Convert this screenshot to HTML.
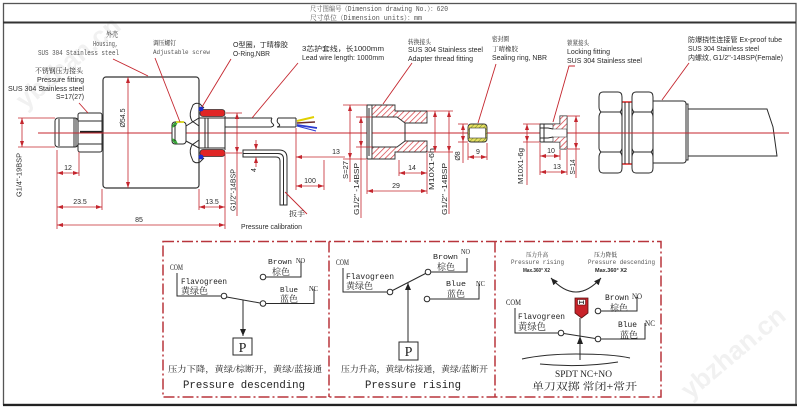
<!DOCTYPE html>
<html><head><meta charset="utf-8">
<style>
html,body{margin:0;padding:0;background:#fff;}
svg{display:block;}
.r{stroke:#c4262e;stroke-width:0.8;fill:none;}
.k{stroke:#2a2a2a;stroke-width:1;fill:none;}
.kw{stroke:#2a2a2a;stroke-width:1;fill:#fff;}
.sa{font-family:"Liberation Sans","Noto Sans CJK SC",sans-serif;fill:#2a2a2a;}
.mo{font-family:"Liberation Mono","Noto Serif CJK SC",monospace;fill:#555;}
.se{font-family:"Liberation Serif","Noto Serif CJK SC",serif;fill:#222;}
.cj{font-family:"Liberation Serif","Noto Serif CJK SC",serif;fill:#222;}
.bm{font-family:"Liberation Mono","Noto Serif CJK SC",monospace;fill:#222;}
</style></head><body>
<svg width="800" height="411" viewBox="0 0 800 411" xmlns="http://www.w3.org/2000/svg">
<defs>
<marker id="ar" markerWidth="6" markerHeight="4" refX="6" refY="2" orient="auto-start-reverse" markerUnits="userSpaceOnUse"><path d="M0,0 L6,2 L0,4 Z" fill="#c4262e"/></marker>
<marker id="ak" markerWidth="7" markerHeight="6" refX="7" refY="3" orient="auto" markerUnits="userSpaceOnUse"><path d="M0,0 L7,3 L0,6 Z" fill="#222"/></marker>
<marker id="ak2" markerWidth="7" markerHeight="6" refX="7" refY="3" orient="auto-start-reverse" markerUnits="userSpaceOnUse"><path d="M0,0 L7,3 L0,6 Z" fill="#222"/></marker>
<pattern id="h" width="4" height="4" patternUnits="userSpaceOnUse" patternTransform="rotate(45)"><rect width="4" height="4" fill="#fff"/><line x1="0" y1="0" x2="0" y2="4" stroke="#d22a30" stroke-width="1.3"/></pattern>
<pattern id="hy" width="3" height="3" patternUnits="userSpaceOnUse" patternTransform="rotate(45)"><rect width="3" height="3" fill="#e8e060"/><line x1="0" y1="0" x2="0" y2="3" stroke="#6a8a30" stroke-width="1"/></pattern>
</defs>

<!-- watermarks -->
<g font-family="Liberation Sans,sans-serif" font-size="26" fill="#f1f1f1" font-weight="bold">
<text transform="translate(25,110) rotate(-40)">ybzhan.cn</text>
<text transform="translate(690,400) rotate(-40)">ybzhan.cn</text>
</g>

<!-- frame -->
<rect x="3.5" y="3.5" width="792.5" height="401" fill="none" stroke="#555" stroke-width="1.3"/>
<line x1="3" y1="22.5" x2="796" y2="22.5" stroke="#333" stroke-width="2"/>
<line x1="3" y1="405" x2="797" y2="405" stroke="#222" stroke-width="2.2"/>
<text x="310" y="11" class="mo" font-size="7" textLength="138" lengthAdjust="spacingAndGlyphs" fill="#444">尺寸图编号（Dimension drawing No.）：620</text>
<text x="310" y="20" class="mo" font-size="7" textLength="112" lengthAdjust="spacingAndGlyphs" fill="#444">尺寸单位（Dimension units）：mm</text>

<!-- center line -->
<line x1="38" y1="133" x2="789" y2="133" stroke="#c4262e" stroke-width="1"/>

<!-- left fitting -->
<rect x="55" y="118" width="23" height="29" rx="3" class="kw"/>
<line x1="59" y1="119" x2="59" y2="146" class="k"/>
<line x1="74" y1="118" x2="74" y2="147" class="k"/>
<line x1="76" y1="118" x2="76" y2="147" class="k"/>
<rect x="78" y="113" width="24" height="39" rx="2" class="kw"/>
<line x1="78" y1="121" x2="102" y2="121" class="k"/>
<line x1="78" y1="144" x2="102" y2="144" class="k"/>
<line x1="80" y1="132" x2="102" y2="132" stroke="#222" stroke-width="2.2"/>
<rect x="103" y="77" width="96" height="111" rx="3" fill="#fff" stroke="#333" stroke-width="1.2"/>
<line x1="38" y1="133" x2="200" y2="133" stroke="#c4262e" stroke-width="1"/>

<!-- gland -->
<path d="M199 126 L192 121 Q189 116 191 110 L193 105 Q196 102 200 104 L204 108" class="k"/>
<path d="M199 140 L192 145 Q189 150 191 156 L193 161 Q196 164 200 162 L204 158" class="k"/>
<rect x="200" y="109.5" width="25" height="7" rx="3" fill="#e02626" stroke="#333" stroke-width="0.8"/>
<rect x="200" y="149.5" width="25" height="7" rx="3" fill="#e02626" stroke="#333" stroke-width="0.8"/>
<circle cx="201" cy="109" r="2.4" fill="#1a2fd0"/>
<circle cx="201" cy="157" r="2.4" fill="#1a2fd0"/>
<path d="M186 126 L199 118 L225 118" class="k"/>
<path d="M186 141 L199 148 L225 148" class="k"/>
<line x1="205" y1="118" x2="205" y2="148" class="k"/>
<line x1="208" y1="118" x2="208" y2="148" class="k"/>
<line x1="225" y1="116" x2="225" y2="150" class="k"/>
<!-- adjustable screw -->
<rect x="172" y="122" width="14" height="22" rx="3" class="kw"/>
<path d="M172 128 Q172 122 178 122 L176 126 Z" fill="#3aa83a"/>
<path d="M172 138 Q172 144 178 144 L176 140 Z" fill="#3aa83a"/>
<rect x="176" y="121" width="8" height="2" fill="#d8d830"/>
<line x1="175" y1="125" x2="175" y2="141" class="k"/>
<!-- cable -->
<path d="M225 118 H272 M278 118 H296 M225 127 H271 M277 127 H296 M296 118 V127" class="k"/>
<path d="M272 118 Q270 122 273 124 Q275 126 271 127 M278 118 Q276 122 279 124 Q281 126 277 127" class="k"/>
<line x1="297" y1="121" x2="314" y2="117" stroke="#e0d000" stroke-width="2"/>
<line x1="297" y1="123" x2="315" y2="122" stroke="#6a2a2a" stroke-width="1.6"/>
<line x1="297" y1="125" x2="317" y2="128" stroke="#2a3ad0" stroke-width="1.8"/>
<line x1="297" y1="126" x2="316" y2="131" stroke="#2a3ad0" stroke-width="1"/>
<!-- wrench -->
<path d="M243 150 H279 Q287 150 287 158 V205 H280 V161 Q280 157 276 157 H243 Z" class="kw"/>
<path d="M243 153.5 H278 Q283.5 153.5 283.5 159 V205" class="k" stroke-width="0.6"/>

<!-- left dimension lines -->
<g class="r">
<line x1="18" y1="118" x2="55" y2="118"/>
<line x1="18" y1="147" x2="55" y2="147"/>
<line x1="22" y1="118" x2="22" y2="147" marker-start="url(#ar)" marker-end="url(#ar)"/>
<line x1="57" y1="150" x2="57" y2="229"/>
<line x1="79" y1="152" x2="79" y2="176"/>
<line x1="57" y1="173" x2="79" y2="173" marker-start="url(#ar)" marker-end="url(#ar)"/>
<line x1="102" y1="189" x2="102" y2="210"/>
<line x1="57" y1="207" x2="102" y2="207" marker-start="url(#ar)" marker-end="url(#ar)"/>
<line x1="57" y1="225" x2="225" y2="225" marker-start="url(#ar)" marker-end="url(#ar)"/>
<line x1="199" y1="189" x2="199" y2="210"/>
<line x1="199" y1="207" x2="225" y2="207" marker-start="url(#ar)" marker-end="url(#ar)"/>
<line x1="225" y1="152" x2="225" y2="229"/>
<line x1="128" y1="77" x2="128" y2="188" marker-start="url(#ar)" marker-end="url(#ar)"/>
<line x1="226" y1="113" x2="242" y2="113"/>
<line x1="226" y1="153" x2="242" y2="153"/>
<line x1="237" y1="113" x2="237" y2="153" marker-start="url(#ar)" marker-end="url(#ar)"/>
<line x1="237" y1="153" x2="237" y2="216"/>
<line x1="256" y1="140" x2="256" y2="150" marker-end="url(#ar)"/>
<line x1="256" y1="167" x2="256" y2="157" marker-end="url(#ar)"/>
<line x1="296" y1="128" x2="296" y2="190"/>
<line x1="324" y1="160" x2="324" y2="190"/>
<line x1="296" y1="186" x2="324" y2="186" marker-start="url(#ar)" marker-end="url(#ar)"/>
<line x1="296" y1="157" x2="345" y2="157" marker-start="url(#ar)"/>
</g>
<g class="sa" font-size="7" fill="#333">
<text x="68" y="170" text-anchor="middle">12</text>
<text x="80" y="204" text-anchor="middle">23.5</text>
<text x="139" y="222" text-anchor="middle">85</text>
<text x="212" y="204" text-anchor="middle">13.5</text>
<text x="310" y="183" text-anchor="middle">100</text>
<text x="336" y="154" text-anchor="middle">13</text>
<text transform="translate(21.5,175) rotate(-90)" text-anchor="middle" textLength="44" lengthAdjust="spacingAndGlyphs">G1/4"-19BSP</text>
<text transform="translate(125,118) rotate(-90)" text-anchor="middle">Ø54.5</text>
<text transform="translate(235.5,190) rotate(-90)" text-anchor="middle" textLength="42" lengthAdjust="spacingAndGlyphs">G1/2"-14BSP</text>
<text transform="translate(256,170) rotate(-90)" text-anchor="middle">4</text>
</g>

<!-- adapter fitting -->
<rect x="367" y="105" width="5" height="54" class="kw"/>
<path d="M372 105 H395 V111 H427 V123 H405 L397 117 H372 Z" fill="url(#h)" stroke="#333" stroke-width="0.9"/>
<path d="M372 159 H395 V152 H427 V141 H405 L397 147 H372 Z" fill="url(#h)" stroke="#333" stroke-width="0.9"/>
<line x1="372" y1="117" x2="372" y2="147" class="k"/>
<line x1="369" y1="108" x2="369" y2="156" class="k" stroke-width="0.6"/>
<line x1="405" y1="123" x2="405" y2="141" class="k" stroke-width="0.6"/>
<!-- sealing ring -->
<rect x="468" y="124" width="19" height="18" rx="3" fill="url(#hy)" stroke="#333" stroke-width="0.9"/>
<rect x="469.5" y="128" width="16" height="10" fill="#fff" stroke="#333" stroke-width="0.6"/>
<!-- locking fitting -->
<path d="M540 124 H560 V116 H567 V149 H560 V142 H540 Z" class="kw"/>
<path d="M553 124 H560 V116 H567 V129 H553 Z" fill="url(#h)" stroke="#333" stroke-width="0.6"/>
<path d="M553 142 H560 V149 H567 V137 H553 Z" fill="url(#h)" stroke="#333" stroke-width="0.6"/>
<path d="M540 128 H548 L553 129 M540 138 H548 L553 137" class="k" stroke-width="0.7"/>
<line x1="544" y1="124" x2="544" y2="142" class="k" stroke-width="0.6"/>

<!-- middle/right dimensions -->
<g class="r">
<line x1="343" y1="105" x2="367" y2="105"/>
<line x1="343" y1="159" x2="367" y2="159"/>
<line x1="350" y1="105" x2="350" y2="159" marker-start="url(#ar)" marker-end="url(#ar)"/>
<line x1="350" y1="159" x2="350" y2="182"/>
<line x1="356" y1="117" x2="372" y2="117"/>
<line x1="356" y1="147" x2="372" y2="147"/>
<line x1="361" y1="117" x2="361" y2="147" marker-start="url(#ar)" marker-end="url(#ar)"/>
<line x1="361" y1="147" x2="361" y2="218"/>
<line x1="367" y1="160" x2="367" y2="194"/>
<line x1="427" y1="153" x2="427" y2="194"/>
<line x1="367" y1="191" x2="427" y2="191" marker-start="url(#ar)" marker-end="url(#ar)"/>
<line x1="399" y1="160" x2="399" y2="176"/>
<line x1="399" y1="173" x2="427" y2="173" marker-start="url(#ar)" marker-end="url(#ar)"/>
<line x1="427" y1="111" x2="453" y2="111"/>
<line x1="427" y1="152" x2="453" y2="152"/>
<line x1="435" y1="111" x2="435" y2="152" marker-start="url(#ar)" marker-end="url(#ar)"/>
<line x1="449" y1="111" x2="449" y2="152" marker-start="url(#ar)" marker-end="url(#ar)"/>
<line x1="449" y1="152" x2="449" y2="214"/>
<line x1="458" y1="124" x2="468" y2="124"/>
<line x1="458" y1="142" x2="468" y2="142"/>
<line x1="463" y1="124" x2="463" y2="142" marker-start="url(#ar)" marker-end="url(#ar)"/>
<line x1="463" y1="142" x2="463" y2="163"/>
<line x1="468" y1="143" x2="468" y2="160"/>
<line x1="487" y1="143" x2="487" y2="160"/>
<line x1="468" y1="157" x2="487" y2="157" marker-start="url(#ar)" marker-end="url(#ar)"/>
<line x1="523" y1="124" x2="540" y2="124"/>
<line x1="523" y1="142" x2="540" y2="142"/>
<line x1="527" y1="124" x2="527" y2="142" marker-start="url(#ar)" marker-end="url(#ar)"/>
<line x1="527" y1="142" x2="527" y2="185"/>
<line x1="540" y1="143" x2="540" y2="175"/>
<line x1="560" y1="150" x2="560" y2="160"/>
<line x1="540" y1="156" x2="560" y2="156" marker-start="url(#ar)" marker-end="url(#ar)"/>
<line x1="567" y1="150" x2="567" y2="175"/>
<line x1="540" y1="172" x2="567" y2="172" marker-start="url(#ar)" marker-end="url(#ar)"/>
<line x1="567" y1="116" x2="580" y2="116"/>
<line x1="567" y1="149" x2="580" y2="149"/>
<line x1="576" y1="116" x2="576" y2="149" marker-start="url(#ar)" marker-end="url(#ar)"/>
<line x1="576" y1="149" x2="576" y2="178"/>
</g>
<g class="sa" font-size="7" fill="#333">
<text x="396" y="188" text-anchor="middle">29</text>
<text x="412" y="170" text-anchor="middle">14</text>
<text x="478" y="154" text-anchor="middle">9</text>
<text x="551" y="153" text-anchor="middle">10</text>
<text x="557" y="169" text-anchor="middle">13</text>
<text transform="translate(348,170) rotate(-90)" text-anchor="middle" textLength="18" lengthAdjust="spacingAndGlyphs">S=27</text>
<text transform="translate(359,189) rotate(-90)" text-anchor="middle" textLength="52" lengthAdjust="spacingAndGlyphs">G1/2" -14BSP</text>
<text transform="translate(434,169) rotate(-90)" text-anchor="middle" textLength="42" lengthAdjust="spacingAndGlyphs">M10X1-6h</text>
<text transform="translate(447,189) rotate(-90)" text-anchor="middle" textLength="52" lengthAdjust="spacingAndGlyphs">G1/2" -14BSP</text>
<text transform="translate(460,156) rotate(-90)" text-anchor="middle">Ø8</text>
<text transform="translate(523,166) rotate(-90)" text-anchor="middle" textLength="36" lengthAdjust="spacingAndGlyphs">M10X1-6g</text>
<text transform="translate(575,167) rotate(-90)" text-anchor="middle" textLength="15" lengthAdjust="spacingAndGlyphs">S=14</text>
</g>

<!-- ex-proof tube -->
<g>
<path d="M688 109 H767 L773 127 L777 156 H688 Z" class="kw"/>
<rect x="685" y="104" width="3" height="56" class="kw"/>
<path d="M653 101 H683 Q686 101 686 104 V160 Q686 163 683 163 H653 Z" class="kw"/>
<rect x="622" y="102" width="10" height="62" class="kw"/>
<line x1="622" y1="102" x2="632" y2="102" stroke="#d22" stroke-width="1.5"/>
<line x1="622" y1="164" x2="632" y2="164" stroke="#d22" stroke-width="1.5"/>
<line x1="625" y1="102" x2="625" y2="164" class="k"/>
<line x1="629" y1="102" x2="629" y2="164" class="k" stroke-width="0.6"/>
<path d="M603 92 H618 Q622 92 622 97 V107 Q622 110 620 112 Q622 114 622 117 V148 Q622 150 620 152 Q622 154 622 157 V168 Q622 173 618 173 H603 Q599 173 599 168 V157 Q599 154 601 152 Q599 150 599 148 V117 Q599 114 601 112 Q599 110 599 107 V97 Q599 92 603 92 Z" class="kw"/>
<path d="M601 112 H620 M601 152 H620" class="k"/>
<path d="M636 92 H649 Q653 92 653 97 V107 Q653 110 651 112 Q653 114 653 117 V148 Q653 150 651 152 Q653 154 653 157 V168 Q653 173 649 173 H636 Q632 173 632 168 V157 Q632 154 634 152 Q632 150 632 148 V117 Q632 114 634 112 Q632 110 632 107 V97 Q632 92 636 92 Z" class="kw"/>
<path d="M634 112 H651 M634 152 H651" class="k"/>
<line x1="595" y1="133" x2="789" y2="133" stroke="#c4262e" stroke-width="1"/>
</g>

<!-- leader lines -->
<g stroke="#c4262e" stroke-width="0.9" fill="none">
<line x1="113" y1="59" x2="148" y2="76"/>
<line x1="79" y1="103" x2="88" y2="113"/>
<line x1="155" y1="58" x2="180" y2="122"/>
<line x1="231" y1="59" x2="202" y2="107"/>
<line x1="298" y1="63" x2="252" y2="118"/>
<line x1="285" y1="192" x2="307" y2="214"/>
<line x1="412" y1="63" x2="383" y2="104"/>
<line x1="496" y1="64" x2="478" y2="123"/>
<path d="M575 66 H569 L553 122"/>
<line x1="689" y1="63" x2="662" y2="100"/>
</g>

<!-- top labels -->
<text x="106" y="37" class="cj" font-size="7.5" fill="#444" textLength="12" lengthAdjust="spacingAndGlyphs">外壳</text>
<text x="93" y="46" class="mo" font-size="7" textLength="25" lengthAdjust="spacingAndGlyphs">Housing,</text>
<text x="38" y="55" class="mo" font-size="7" textLength="81" lengthAdjust="spacingAndGlyphs">SUS 304 Stainless steel</text>
<text x="35" y="73" class="cj" font-size="7" fill="#444" textLength="48" lengthAdjust="spacingAndGlyphs">不锈钢压力接头</text>
<text x="37" y="82" class="sa" font-size="7.3" textLength="47" lengthAdjust="spacingAndGlyphs">Pressure fitting</text>
<text x="8" y="91" class="sa" font-size="7.3" textLength="76" lengthAdjust="spacingAndGlyphs">SUS 304 Stainless steel</text>
<text x="56" y="99" class="sa" font-size="7.3" textLength="28" lengthAdjust="spacingAndGlyphs">S=17(27)</text>
<text x="153" y="45" class="cj" font-size="6.5" fill="#444" textLength="23" lengthAdjust="spacingAndGlyphs">调压螺钉</text>
<text x="153" y="54" class="mo" font-size="6.5" fill="#777" textLength="57" lengthAdjust="spacingAndGlyphs">Adjustable screw</text>
<text x="233" y="47" class="sa" font-size="7" textLength="55" lengthAdjust="spacingAndGlyphs">O型圈，丁晴橡胶</text>
<text x="233" y="56" class="sa" font-size="7" textLength="37" lengthAdjust="spacingAndGlyphs">O-Ring,NBR</text>
<text x="302" y="51" class="sa" font-size="7" textLength="82" lengthAdjust="spacingAndGlyphs">3芯护套线，长1000mm</text>
<text x="302" y="60" class="sa" font-size="7" textLength="82" lengthAdjust="spacingAndGlyphs">Lead wire length: 1000mm</text>
<text x="408" y="44" class="cj" font-size="6.5" fill="#444" textLength="23" lengthAdjust="spacingAndGlyphs">转换接头</text>
<text x="408" y="52" class="sa" font-size="7" textLength="75" lengthAdjust="spacingAndGlyphs">SUS 304 Stainless steel</text>
<text x="408" y="61" class="sa" font-size="7" textLength="65" lengthAdjust="spacingAndGlyphs">Adapter thread fitting</text>
<text x="492" y="41" class="cj" font-size="6.5" fill="#444" textLength="17" lengthAdjust="spacingAndGlyphs">密封圈</text>
<text x="492" y="51" class="cj" font-size="6.5" fill="#444" textLength="26" lengthAdjust="spacingAndGlyphs">丁晴橡胶</text>
<text x="492" y="60" class="sa" font-size="7" textLength="55" lengthAdjust="spacingAndGlyphs">Sealing ring, NBR</text>
<text x="567" y="45" class="cj" font-size="6.5" fill="#444" textLength="22" lengthAdjust="spacingAndGlyphs">锁紧接头</text>
<text x="567" y="54" class="sa" font-size="7" textLength="43" lengthAdjust="spacingAndGlyphs">Locking fitting</text>
<text x="567" y="63" class="sa" font-size="7" textLength="75" lengthAdjust="spacingAndGlyphs">SUS 304 Stainless steel</text>
<text x="688" y="42" class="sa" font-size="7" textLength="94" lengthAdjust="spacingAndGlyphs">防爆挠性连接管 Ex-proof tube</text>
<text x="688" y="51" class="sa" font-size="7" textLength="71" lengthAdjust="spacingAndGlyphs">SUS 304 Stainless steel</text>
<text x="688" y="60" class="sa" font-size="7" textLength="95" lengthAdjust="spacingAndGlyphs">内螺纹, G1/2"-14BSP(Female)</text>
<text x="289" y="216" class="cj" font-size="7" fill="#444" textLength="16" lengthAdjust="spacingAndGlyphs">扳手</text>
<text x="241" y="229" class="sa" font-size="7.3" textLength="61" lengthAdjust="spacingAndGlyphs">Pressure calibration</text>

<!-- bottom boxes -->
<rect x="163" y="241.5" width="498" height="155.5" fill="none" stroke="#b8353c" stroke-width="1.5" stroke-dasharray="11 3 2 3"/>
<line x1="329" y1="241.5" x2="329" y2="397" stroke="#b8353c" stroke-width="1.5" stroke-dasharray="11 3 2 3"/>
<line x1="495" y1="241.5" x2="495" y2="397" stroke="#b8353c" stroke-width="1.5" stroke-dasharray="11 3 2 3"/>

<!-- box 1 -->
<g>
<text x="170" y="270" class="se" font-size="8" textLength="13" lengthAdjust="spacingAndGlyphs">COM</text>
<path d="M177 273 V296 H221" class="k"/>
<text x="181" y="284" class="bm" font-size="8" textLength="46" lengthAdjust="spacingAndGlyphs">Flavogreen</text>
<text x="181" y="294" class="cj" font-size="9" textLength="27" lengthAdjust="spacingAndGlyphs">黄绿色</text>
<circle cx="224" cy="296" r="2.8" class="kw"/>
<line x1="226.7" y1="297" x2="260" y2="303" class="k"/>
<circle cx="263" cy="303.5" r="2.8" class="kw"/>
<path d="M265.8 303.5 H314 V289" class="k"/>
<circle cx="263" cy="277" r="2.8" class="kw"/>
<path d="M265.8 277 H301 V261" class="k"/>
<text x="268" y="264" class="bm" font-size="7.5" textLength="24" lengthAdjust="spacingAndGlyphs">Brown</text>
<text x="296" y="263" class="se" font-size="7.5" textLength="9" lengthAdjust="spacingAndGlyphs">NO</text>
<text x="272" y="275" class="cj" font-size="9" textLength="18" lengthAdjust="spacingAndGlyphs">棕色</text>
<text x="280" y="292" class="bm" font-size="7.5" textLength="18" lengthAdjust="spacingAndGlyphs">Blue</text>
<text x="309" y="291" class="se" font-size="7.5" textLength="9" lengthAdjust="spacingAndGlyphs">NC</text>
<text x="280" y="302" class="cj" font-size="9" textLength="18" lengthAdjust="spacingAndGlyphs">蓝色</text>
<line x1="243" y1="300" x2="243" y2="336" class="k" marker-end="url(#ak)"/>
<rect x="233" y="338" width="19" height="17" class="kw"/>
<text x="242.5" y="352" class="se" font-size="14" text-anchor="middle">P</text>
<text x="168" y="372" class="cj" font-size="8.5" textLength="154" lengthAdjust="spacingAndGlyphs">压力下降，黄绿/棕断开，黄绿/蓝接通</text>
<text x="183" y="388" class="bm" font-size="11" textLength="122" lengthAdjust="spacingAndGlyphs">Pressure descending</text>
</g>

<!-- box 2 -->
<g>
<text x="336" y="265" class="se" font-size="8" textLength="13" lengthAdjust="spacingAndGlyphs">COM</text>
<path d="M343 268 V292 H387" class="k"/>
<text x="346" y="279" class="bm" font-size="8" textLength="48" lengthAdjust="spacingAndGlyphs">Flavogreen</text>
<text x="346" y="289" class="cj" font-size="9" textLength="27" lengthAdjust="spacingAndGlyphs">黄绿色</text>
<circle cx="390" cy="292" r="2.8" class="kw"/>
<line x1="392.5" y1="290.5" x2="425.5" y2="273.5" class="k"/>
<circle cx="428" cy="272" r="2.8" class="kw"/>
<path d="M430.8 272 H467 V258" class="k"/>
<text x="433" y="259" class="bm" font-size="7.5" textLength="25" lengthAdjust="spacingAndGlyphs">Brown</text>
<text x="461" y="254" class="se" font-size="7.5" textLength="9" lengthAdjust="spacingAndGlyphs">NO</text>
<text x="437" y="270" class="cj" font-size="9" textLength="18" lengthAdjust="spacingAndGlyphs">棕色</text>
<text x="446" y="286" class="bm" font-size="7.5" textLength="20" lengthAdjust="spacingAndGlyphs">Blue</text>
<text x="476" y="286" class="se" font-size="7.5" textLength="9" lengthAdjust="spacingAndGlyphs">NC</text>
<text x="447" y="297" class="cj" font-size="9" textLength="18" lengthAdjust="spacingAndGlyphs">蓝色</text>
<circle cx="427" cy="299" r="2.8" class="kw"/>
<path d="M429.8 299 H479 V284" class="k"/>
<line x1="408" y1="342" x2="408" y2="283" class="k" marker-end="url(#ak)"/>
<rect x="399" y="342" width="19" height="18" class="kw"/>
<text x="408.5" y="356" class="se" font-size="14" text-anchor="middle">P</text>
<text x="341" y="372" class="cj" font-size="8.5" textLength="147" lengthAdjust="spacingAndGlyphs">压力升高，黄绿/棕接通，黄绿/蓝断开</text>
<text x="365" y="388" class="bm" font-size="11" textLength="96" lengthAdjust="spacingAndGlyphs">Pressure rising</text>
</g>

<!-- box 3 -->
<g>
<text x="526" y="257" class="cj" font-size="6" textLength="22" lengthAdjust="spacingAndGlyphs">压力升高</text>
<text x="511" y="264" class="mo" font-size="6" textLength="53" lengthAdjust="spacingAndGlyphs" fill="#444">Pressure rising</text>
<text x="523" y="272" class="sa" font-size="5" font-weight="bold" textLength="27" lengthAdjust="spacingAndGlyphs">Max.360° X2</text>
<text x="594" y="257" class="cj" font-size="6" textLength="23" lengthAdjust="spacingAndGlyphs">压力降低</text>
<text x="588" y="264" class="mo" font-size="6" textLength="67" lengthAdjust="spacingAndGlyphs" fill="#444">Pressure descending</text>
<text x="595" y="272" class="sa" font-size="5" font-weight="bold" textLength="32" lengthAdjust="spacingAndGlyphs">Max.360° X2</text>
<path d="M551 278 Q576 306 601 278" class="k" marker-start="url(#ak2)" marker-end="url(#ak2)"/>
<path d="M575 298 H588 V313 L581.5 318 L575 313 Z" fill="#c8232a" stroke="#5a1010" stroke-width="0.8"/>
<rect x="577.5" y="299.5" width="8" height="5.5" fill="#fff" stroke="#5a1010" stroke-width="0.6"/>
<path d="M579.5 300.5 V304 M583.5 300.5 V304 M579.5 302.2 H583.5" stroke="#222" stroke-width="0.8"/>
<text x="506" y="305" class="se" font-size="8.5" textLength="15" lengthAdjust="spacingAndGlyphs">COM</text>
<path d="M515 308 V333 H558" class="k"/>
<text x="518" y="319" class="bm" font-size="8.5" textLength="47" lengthAdjust="spacingAndGlyphs">Flavogreen</text>
<text x="518" y="330" class="cj" font-size="9.5" textLength="28" lengthAdjust="spacingAndGlyphs">黄绿色</text>
<circle cx="561" cy="333" r="2.8" class="kw"/>
<line x1="563.8" y1="333.5" x2="595.3" y2="338.5" class="k"/>
<circle cx="598" cy="339" r="2.8" class="kw"/>
<path d="M600.8 339 H645 V323" class="k"/>
<circle cx="598" cy="311" r="2.8" class="kw"/>
<path d="M600.8 311 H637 V297" class="k"/>
<text x="605" y="300" class="bm" font-size="8.5" textLength="24" lengthAdjust="spacingAndGlyphs">Brown</text>
<text x="632" y="299" class="se" font-size="8.5" textLength="10" lengthAdjust="spacingAndGlyphs">NO</text>
<text x="610" y="311" class="cj" font-size="9" textLength="18" lengthAdjust="spacingAndGlyphs">棕色</text>
<text x="618" y="327" class="bm" font-size="8.5" textLength="19" lengthAdjust="spacingAndGlyphs">Blue</text>
<text x="645" y="326" class="se" font-size="8.5" textLength="10" lengthAdjust="spacingAndGlyphs">NC</text>
<text x="620" y="338" class="cj" font-size="9" textLength="18" lengthAdjust="spacingAndGlyphs">蓝色</text>
<line x1="580" y1="318" x2="580" y2="360" class="k"/>
<path d="M577 344 L580 336 L583 344 Z" fill="#222"/>
<path d="M522 359 Q545 354 576 354 Q612 354 630 358" class="k"/>
<path d="M540 364 Q580 368 618 362" class="k"/>
<text x="555" y="377" class="se" font-size="9" textLength="57" lengthAdjust="spacingAndGlyphs">SPDT NC+NO</text>
<text x="532" y="390" class="cj" font-size="10" textLength="105" lengthAdjust="spacingAndGlyphs">单刀双掷  常闭+常开</text>
</g>
</svg>
</body></html>
